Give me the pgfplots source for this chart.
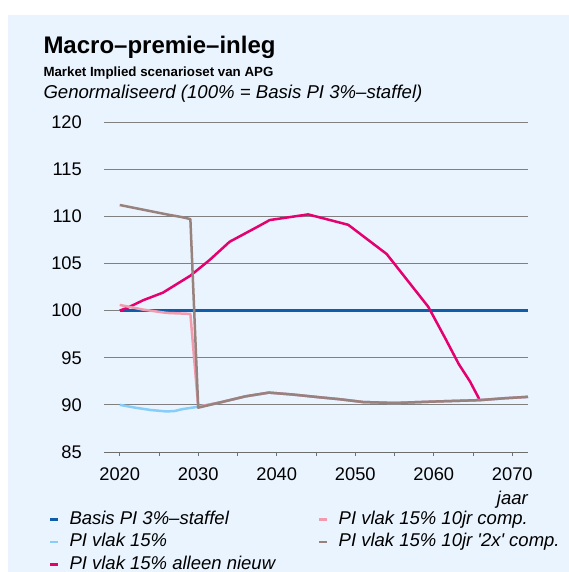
\documentclass[border=0pt]{standalone}
\usepackage{fontspec}
\setmainfont{Liberation Sans}
\usepackage{pgfplots}
\pgfplotsset{compat=1.18}
\definecolor{bg}{RGB}{234,244,254}
\definecolor{cBasis}{RGB}{14,92,170}
\definecolor{cLight}{RGB}{135,205,250}
\definecolor{cNew}{RGB}{228,0,110}
\definecolor{cPink}{RGB}{242,155,175}
\definecolor{cTaupe}{RGB}{152,130,125}
\definecolor{gridgray}{RGB}{128,128,128}
\definecolor{axgray}{RGB}{110,110,110}
\begin{document}
\begin{tikzpicture}
\path[use as bounding box] (0,0) rectangle (569bp,-572bp);
\fill[bg] (8bp,-15bp) rectangle (569bp,-572bp);
\node[anchor=base west, inner sep=0pt, font=\fontsize{24bp}{28bp}\selectfont\bfseries] at (43.3bp,-53.3bp) {Macro–premie–inleg};
\node[anchor=base west, inner sep=0pt, font=\fontsize{13.3bp}{16bp}\selectfont\bfseries] at (43.3bp,-76bp) {Market Implied scenarioset van APG};
\node[anchor=base west, inner sep=0pt, font=\fontsize{18.6bp}{22bp}\selectfont\itshape] at (43.3bp,-98.3bp) {Genormaliseerd (100\% = Basis PI 3\%–staffel)};
\node[anchor=base east, inner sep=0pt, font=\fontsize{18.5bp}{22bp}\selectfont\itshape] at (528bp,-504bp) {jaar};
\begin{axis}[
  at={(104bp,-452bp)}, anchor=south west,
  scale only axis, width=424bp, height=330bp,
  xmin=2018, xmax=2072, ymin=85, ymax=120,
  axis x line*=bottom, axis y line*=left,
  y axis line style={draw=none},
  x axis line style={draw=axgray, line width=0.9bp},
  ytick={85,90,...,120},
  xtick={2020,2030,...,2070},
  minor xtick={2025,2035,...,2065},
  ymajorgrids, grid style={draw=gridgray, line width=0.9bp},
  tick align=outside,
  major tick length=4bp, minor tick length=4bp,
  xtick style={draw=axgray, line width=0.9bp},
  minor tick style={draw=axgray, line width=0.9bp},
  ytick style={draw=none},
  xticklabel style={/pgf/number format/1000 sep={}, inner sep=0pt},
  yticklabel style={inner sep=0pt},
  xticklabel shift=12bp, yticklabel shift=18bp,
  tick label style={font=\fontsize{18.3bp}{20bp}\selectfont},
  /pgf/number format/assume math mode=true,
  legend columns=2, legend cell align=left,
  legend image code/.code={\draw[#1, line width=2.5bp] (0bp,0bp) -- (8bp,0bp);},
  legend style={draw=none, fill=none, at={(-0.1297,-0.1785)}, anchor=north west,
    inner sep=0pt, outer sep=0pt,
    font=\fontsize{18.5bp}{22bp}\selectfont\itshape,
    nodes={inner sep=0pt, text height=13.5bp, text depth=4bp},
    row sep=5bp,
    /tikz/every odd column/.append style={column sep=10bp},
    /tikz/every even column/.append style={column sep=43bp}},
  every axis plot/.append style={line width=2.5bp, line join=round},
]
\addplot[cBasis, line width=3bp, forget plot] coordinates {(2020,100) (2072,100)};
\addplot[cLight, forget plot] coordinates {
(2020,90.0) (2022,89.7) (2024,89.45) (2026,89.3) (2027,89.35) (2028,89.55) (2030,89.8)
(2033,90.3) (2036,90.9) (2039,91.3) (2042,91.1) (2045.5,90.8) (2048,90.6) (2051,90.3)
(2055,90.2) (2060,90.35) (2065.8,90.5) (2069,90.7) (2072,90.85)};
\addplot[cNew, forget plot] coordinates {
(2020,100) (2021,100.3) (2023,101.1) (2025.5,101.9) (2029,103.7) (2031.5,105.4)
(2034,107.3) (2037.8,109.0) (2039.1,109.6) (2044,110.2) (2049.1,109.1) (2054,106.0)
(2059.3,100.4) (2061.5,97.0) (2063.2,94.3) (2064.6,92.5) (2065.8,90.6)};
\addplot[cPink, forget plot] coordinates {
(2020,100.6) (2023,100.1) (2026,99.75) (2029,99.65) (2030,89.8)
(2033,90.3) (2036,90.9) (2039,91.3) (2042,91.1) (2045.5,90.8) (2048,90.6) (2051,90.3)
(2055,90.2) (2060,90.35) (2065.8,90.5) (2069,90.7) (2072,90.85)};
\addplot[cTaupe, forget plot] coordinates {
(2020,111.2) (2023,110.7) (2026,110.2) (2028,109.9) (2029,109.7) (2030,89.7)
(2033,90.3) (2036,90.9) (2039,91.3) (2042,91.1) (2045.5,90.8) (2048,90.6) (2051,90.3)
(2055,90.2) (2060,90.35) (2065.8,90.5) (2069,90.7) (2072,90.85)};
\addlegendimage{cBasis}\addlegendentry{Basis PI 3\%–staffel}
\addlegendimage{cPink}\addlegendentry{PI vlak 15\% 10jr comp.}
\addlegendimage{cLight}\addlegendentry{PI vlak 15\%}
\addlegendimage{cTaupe}\addlegendentry{PI vlak 15\% 10jr \textquotesingle 2x\textquotesingle{} comp.}
\addlegendimage{cNew}\addlegendentry{PI vlak 15\% alleen nieuw}
\end{axis}
\end{tikzpicture}
\end{document}
